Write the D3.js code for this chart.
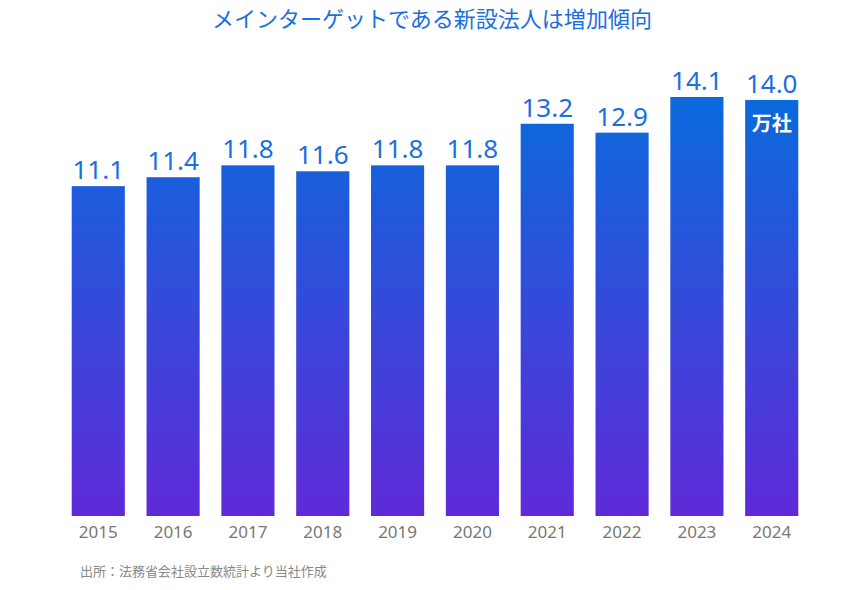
<!DOCTYPE html>
<html><head><meta charset="utf-8">
<script src="https://cdn.jsdelivr.net/npm/d3@7"></script>
<style>body{margin:0;background:#fff;font-family:"Noto Sans CJK JP","Noto Sans",sans-serif}</style>
</head><body><svg id="c" width="864" height="590"></svg>
<script>
const years=["2015","2016","2017","2018","2019","2020","2021","2022","2023","2024"];
const values=[11.1,11.4,11.8,11.6,11.8,11.8,13.2,12.9,14.1,14.0];
const title="メインターゲットである新設法人は増加傾向";
const source="出所：法務省会社設立数統計より当社作成";
const unit="万社";

const svg=d3.select("#c");
const x=d3.scaleBand().domain(years).range([59,811]).paddingInner(0.29).paddingOuter(0.17);
const y=d3.scaleLinear().domain([0,14.1]).range([516,97]);
const defs=svg.append("defs");
const g=defs.append("linearGradient").attr("id","gr").attr("gradientUnits","userSpaceOnUse")
 .attr("x1",0).attr("x2",0).attr("y1",y(14.1)).attr("y2",y(0));
g.append("stop").attr("offset","0%").attr("stop-color","#0a6adc");
g.append("stop").attr("offset","100%").attr("stop-color","#5f2ad8");

svg.append("text").attr("x",432).attr("y",27).attr("text-anchor","middle")
 .attr("font-size",22).attr("fill","#1a6fe0").text(title);

svg.selectAll("rect.b").data(values).join("rect").attr("class","b")
 .attr("x",(d,i)=>x(years[i])).attr("width",x.bandwidth())
 .attr("y",d=>y(d)).attr("height",d=>y(0)-y(d)).attr("fill","url(#gr)");

svg.selectAll("text.v").data(values).join("text").attr("class","v")
 .attr("x",(d,i)=>x(years[i])+x.bandwidth()/2).attr("y",d=>y(d)-7)
 .attr("text-anchor","middle").attr("font-size",26).attr("font-family","Noto Sans, sans-serif")
 .attr("fill","#1a6fe0").text(d=>d.toFixed(1));

const xa=svg.append("g").attr("transform","translate(0,516)").call(d3.axisBottom(x).tickSize(0).tickPadding(10));
xa.select(".domain").remove();
xa.selectAll("text").attr("font-size",17).attr("fill","#777").attr("font-family","Noto Sans, sans-serif");

svg.append("text").attr("x",x("2024")+x.bandwidth()/2).attr("y",y(14.0)+31)
 .attr("text-anchor","middle").attr("font-size",20).attr("font-weight","bold").attr("fill","#fff").text(unit);

svg.append("text").attr("x",80).attr("y",576).attr("font-size",13).attr("fill","#888").text(source);
</script></body></html>
